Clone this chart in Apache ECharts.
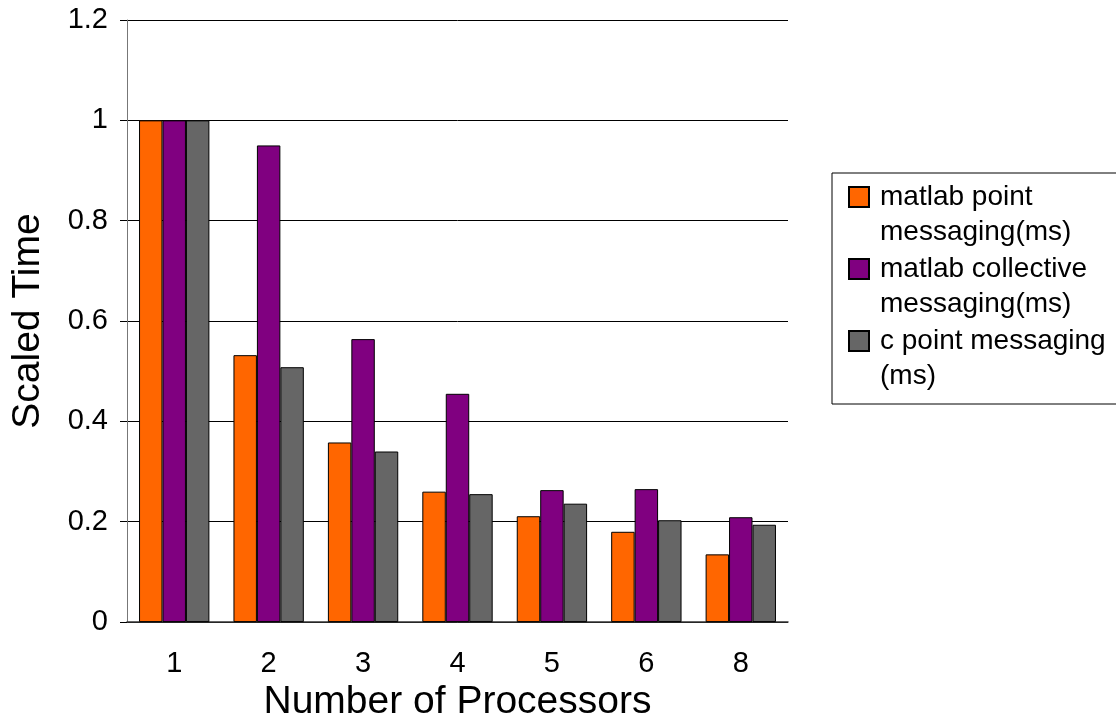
<!DOCTYPE html>
<html>
<head>
<meta charset="utf-8">
<script src="https://cdn.jsdelivr.net/npm/echarts@6/dist/echarts.min.js"></script>
<style>
html,body{margin:0;padding:0;background:#fff;}
#chart{width:1116px;height:727px;}
</style>
</head>
<body>
<div id="chart"></div>
<script>
const categories = ['1', '2', '3', '4', '5', '6', '8'];
const seriesNames = ['matlab point messaging(ms)', 'matlab collective messaging(ms)', 'c point messaging (ms)'];
const legendLines = ['matlab point\nmessaging(ms)', 'matlab collective\nmessaging(ms)', 'c point messaging\n(ms)'];
const matlabPoint = [1.0, 0.532, 0.358, 0.260, 0.211, 0.180, 0.135];
const matlabCollective = [1.0, 0.950, 0.564, 0.455, 0.263, 0.265, 0.209];
const cPoint = [1.0, 0.508, 0.340, 0.255, 0.236, 0.203, 0.194];
const yTicks = { min: 0, max: 1.2, interval: 0.2 };

const colors = ['#FF6600', '#800080', '#666666'];
const FONT = 'Liberation Sans, Arial, sans-serif';
const values = [matlabPoint, matlabCollective, cPoint];

const chart = echarts.init(document.getElementById('chart'), null, { renderer: 'canvas' });
const iconPath = 'path://M0,0L0,0M0,7H20V27H0ZM26,70L26,70';

chart.setOption({
  animation: false,
  backgroundColor: '#ffffff',
  grid: { left: 127, right: 328, top: 20, bottom: 100, containLabel: false },
  legend: {
    orient: 'vertical',
    left: 832,
    top: 173,
    padding: [6, 12, 9, 16],
    itemGap: 0,
    itemWidth: 26,
    itemHeight: 70,
    icon: iconPath,
    borderColor: '#000',
    borderWidth: 1,
    backgroundColor: '#fff',
    data: seriesNames,
    formatter: function (name) { return legendLines[seriesNames.indexOf(name)]; },
    textStyle: { fontFamily: FONT, fontSize: 28, lineHeight: 35, color: '#000' }
  },
  xAxis: {
    type: 'category',
    data: categories,
    name: 'Number of Processors',
    nameLocation: 'middle',
    nameGap: 55,
    nameTextStyle: { fontFamily: FONT, fontSize: 39, color: '#000' },
    axisLine: { lineStyle: { color: '#333', width: 1.5 } },
    axisTick: { alignWithLabel: true, length: 11, lineStyle: { color: '#555' } },
    axisLabel: { fontFamily: FONT, fontSize: 29, color: '#000', margin: 27 },
    splitLine: { show: false }
  },
  yAxis: {
    type: 'value',
    min: yTicks.min,
    max: yTicks.max,
    interval: yTicks.interval,
    name: 'Scaled Time',
    nameLocation: 'middle',
    nameGap: 79,
    nameTextStyle: { fontFamily: FONT, fontSize: 39, color: '#000' },
    axisLine: { show: true, lineStyle: { color: '#777', width: 1 } },
    axisTick: { show: true, length: 7, lineStyle: { color: '#000' } },
    axisLabel: { fontFamily: FONT, fontSize: 29, color: '#000', margin: 19 },
    splitLine: { show: true, lineStyle: { color: '#000', width: 1 } }
  },
  series: seriesNames.map(function (n, i) {
    return {
      name: n,
      type: 'bar',
      data: values[i],
      barGap: '0%',
      barCategoryGap: '25.5%',
      itemStyle: { color: colors[i], borderColor: '#000', borderWidth: 1 }
    };
  })
});
</script>
</body>
</html>
